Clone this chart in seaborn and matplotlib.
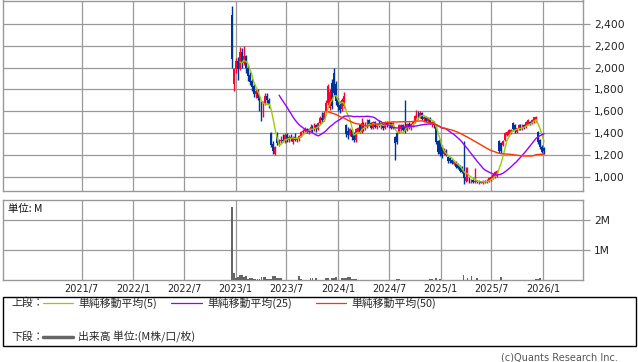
import numpy as np
import pandas as pd
import matplotlib
matplotlib.use("Agg")
import matplotlib.pyplot as plt
import matplotlib.dates as mdates
from matplotlib.lines import Line2D
from matplotlib.patches import Rectangle
import seaborn as sns

sns.set_style("white")
plt.rcParams['font.family'] = ['DejaVu Sans', 'Noto Sans CJK JP']

# ---------------- data (weekly candles) ----------------
start_week = "2022-12-19"

opens = [2480, 1850, 1990, 2060, 1990, 2140, 2040, 2110, 2000, 1930,
         1880, 1830, 1760, 1790, 1720, 1650, 1570, 1680, 1740, 1700,
         1400, 1300, 1210, 1380, 1310, 1330, 1340, 1330, 1380, 1340,
         1360, 1320, 1360, 1340, 1350, 1370, 1410, 1420, 1440, 1410,
         1440, 1460, 1430, 1470, 1440, 1490, 1540, 1520, 1600, 1680,
         1630, 1860, 1950, 1850, 1700, 1660, 1620, 1650, 1470, 1420,
         1380, 1430, 1400, 1340, 1410, 1470, 1410, 1490, 1440, 1460,
         1520, 1490, 1450, 1500, 1460, 1480, 1470, 1490, 1450, 1500,
         1470, 1490, 1450, 1360, 1400, 1410, 1440, 1470, 1460, 1430,
         1480, 1450, 1480, 1500, 1560, 1590, 1550, 1580, 1530, 1550,
         1510, 1540, 1490, 1500, 1460, 1330, 1340, 1270, 1210, 1240,
         1180, 1170, 1150, 1120, 1130, 1120, 1100, 1090, 1060, 960,
         975, 985, 950, 970, 950, 960, 950, 960, 945, 960,
         950, 960, 980, 990, 1000, 1010, 1330, 1310, 1290, 1335,
         1380, 1380, 1400, 1490, 1470, 1410, 1445, 1470, 1440, 1470,
         1455, 1475, 1500, 1490, 1500, 1510, 1410, 1335, 1275, 1260]

highs = [2570, 2000, 2090, 2100, 2190, 2180, 2200, 2120, 2020, 1960,
         1900, 1850, 1800, 1800, 1740, 1690, 1690, 1770, 1770, 1720,
         1410, 1330, 1280, 1410, 1350, 1370, 1390, 1400, 1400, 1380,
         1390, 1370, 1400, 1360, 1380, 1420, 1440, 1460, 1450, 1450,
         1480, 1470, 1490, 1480, 1500, 1560, 1590, 1600, 1700, 1850,
         1800, 1900, 2000, 1880, 1720, 1690, 1720, 1780, 1480, 1460,
         1450, 1440, 1410, 1450, 1460, 1480, 1540, 1500, 1500, 1530,
         1530, 1500, 1510, 1510, 1490, 1520, 1500, 1500, 1510, 1510,
         1500, 1500, 1500, 1370, 1410, 1480, 1480, 1480, 1700, 1490,
         1500, 1490, 1510, 1570, 1610, 1600, 1600, 1590, 1560, 1560,
         1550, 1550, 1510, 1510, 1470, 1340, 1350, 1290, 1260, 1250,
         1190, 1180, 1160, 1150, 1140, 1130, 1110, 1100, 1330, 1090,
         1090, 990, 980, 975, 1080, 970, 970, 965, 970, 970,
         975, 1000, 1010, 1030, 1050, 1065, 1340, 1320, 1340, 1410,
         1420, 1440, 1440, 1500, 1480, 1450, 1480, 1480, 1480, 1480,
         1510, 1530, 1510, 1530, 1550, 1560, 1420, 1350, 1290, 1270]

lows = [2000, 1790, 1950, 1890, 1980, 2000, 2020, 1950, 1880, 1840,
        1790, 1730, 1720, 1700, 1600, 1510, 1550, 1660, 1680, 1630,
        1270, 1210, 1195, 1290, 1280, 1310, 1320, 1310, 1320, 1320,
        1330, 1300, 1330, 1320, 1330, 1360, 1390, 1400, 1400, 1390,
        1420, 1410, 1420, 1410, 1430, 1480, 1500, 1510, 1580, 1660,
        1610, 1620, 1750, 1660, 1600, 1580, 1600, 1630, 1360, 1350,
        1370, 1340, 1320, 1320, 1400, 1400, 1400, 1420, 1430, 1450,
        1470, 1440, 1440, 1450, 1440, 1460, 1440, 1430, 1440, 1460,
        1450, 1440, 1440, 1150, 1300, 1400, 1420, 1420, 1400, 1420,
        1440, 1430, 1460, 1490, 1540, 1530, 1540, 1520, 1500, 1500,
        1490, 1480, 1460, 1450, 1300, 1210, 1190, 1170, 1200, 1190,
        1130, 1130, 1120, 1110, 1080, 1070, 1040, 1030, 930, 950,
        965, 940, 940, 940, 940, 940, 935, 940, 935, 940,
        940, 950, 965, 975, 985, 1000, 1220, 1220, 1280, 1330,
        1370, 1370, 1390, 1420, 1400, 1400, 1430, 1430, 1430, 1440,
        1450, 1470, 1470, 1480, 1495, 1500, 1300, 1250, 1220, 1210]

closes = [2080, 1990, 2060, 1990, 2140, 2040, 2110, 2000, 1920, 1870,
          1820, 1760, 1790, 1720, 1640, 1560, 1670, 1740, 1700, 1660,
          1290, 1240, 1270, 1310, 1330, 1340, 1330, 1380, 1340, 1360,
          1350, 1360, 1340, 1350, 1370, 1410, 1420, 1440, 1410, 1440,
          1460, 1430, 1470, 1440, 1490, 1540, 1520, 1580, 1680, 1830,
          1780, 1650, 1770, 1690, 1640, 1610, 1700, 1740, 1390, 1380,
          1440, 1360, 1340, 1440, 1450, 1410, 1490, 1430, 1490, 1520,
          1480, 1450, 1500, 1460, 1480, 1470, 1490, 1450, 1500, 1470,
          1490, 1450, 1490, 1310, 1320, 1470, 1470, 1430, 1420, 1480,
          1450, 1480, 1500, 1560, 1590, 1550, 1580, 1530, 1550, 1510,
          1540, 1490, 1500, 1470, 1320, 1230, 1210, 1190, 1250, 1200,
          1140, 1140, 1130, 1140, 1090, 1080, 1050, 1040, 990, 1000,
          1060, 950, 970, 950, 960, 950, 960, 945, 960, 950,
          965, 990, 1000, 1020, 1040, 1050, 1240, 1240, 1330, 1400,
          1410, 1430, 1430, 1440, 1420, 1445, 1470, 1440, 1470, 1450,
          1500, 1520, 1480, 1520, 1545, 1550, 1320, 1270, 1230, 1240]

volumes_m = [2.42, 0.24, 0.08, 0.11, 0.16, 0.16, 0.09, 0.13, 0.02, 0.07,
             0.07, 0.03, 0.02, 0.02, 0.02, 0.10, 0.10, 0.10, 0.02, 0.02,
             0.02, 0.13, 0.13, 0.05, 0.05, 0.05, 0.01, 0.01, 0.01, 0.01,
             0.01, 0.01, 0.01, 0.01, 0.13, 0.03, 0.01, 0.01, 0.01, 0.01,
             0.05, 0.05, 0.01, 0.05, 0.01, 0.01, 0.01, 0.01, 0.05, 0.05,
             0.01, 0.08, 0.08, 0.10, 0.01, 0.01, 0.07, 0.07, 0.05, 0.10,
             0.10, 0.03, 0.03, 0.03, 0.005, 0.005, 0.005, 0.005, 0.005, 0.005,
             0.005, 0.005, 0.005, 0.005, 0.005, 0.005, 0.005, 0.005, 0.005, 0.005,
             0.005, 0.005, 0.005, 0.005, 0.03, 0.03, 0.005, 0.005, 0.005, 0.005,
             0.005, 0.005, 0.005, 0.005, 0.005, 0.005, 0.005, 0.005, 0.005, 0.005,
             0.005, 0.03, 0.03, 0.005, 0.07, 0.005, 0.03, 0.005, 0.005, 0.005,
             0.005, 0.005, 0.005, 0.005, 0.005, 0.005, 0.005, 0.005, 0.17, 0.005,
             0.08, 0.005, 0.13, 0.005, 0.005, 0.07, 0.005, 0.005, 0.005, 0.005,
             0.005, 0.005, 0.005, 0.005, 0.005, 0.005, 0.005, 0.10, 0.005, 0.005,
             0.005, 0.005, 0.005, 0.005, 0.005, 0.005, 0.005, 0.005, 0.005, 0.005,
             0.005, 0.005, 0.005, 0.005, 0.005, 0.03, 0.03, 0.07, 0.005, 0.005]

price_ticks = [1000, 1200, 1400, 1600, 1800, 2000, 2200, 2400]
volume_ticks = [1, 2]
volume_tick_labels = ["1M", "2M"]
date_ticks = ["2021-07-01", "2022-01-01", "2022-07-01", "2023-01-01", "2023-07-01",
              "2024-01-01", "2024-07-01", "2025-01-01", "2025-07-01", "2026-01-01"]
date_tick_labels = ["2021/7", "2022/1", "2022/7", "2023/1", "2023/7",
                    "2024/1", "2024/7", "2025/1", "2025/7", "2026/1"]
ma_windows = [5, 25, 50]
ma_labels = ["単純移動平均(5)", "単純移動平均(25)", "単純移動平均(50)"]

# ---------------- build frame ----------------
df = pd.DataFrame({
    "date": pd.date_range(start_week, periods=len(closes), freq="7D"),
    "open": opens, "high": highs, "low": lows, "close": closes,
    "volume": volumes_m,
})
for w in ma_windows:
    df[f"ma{w}"] = df["close"].rolling(w).mean()

UP = "#FF0033"
DOWN = "#003399"
MA_COLORS = ["#99CC00", "#9900FF", "#FF3300"]
GRID = "#999999"
W, H = 638, 362

fig = plt.figure(figsize=(W / 100, H / 100), dpi=100)
ax = fig.add_axes([3 / W, 1 - 190.7 / H, 579.7 / W, 190.2 / H])
axv = fig.add_axes([3 / W, 1 - 280 / H, 579.7 / W, 80.5 / H], sharex=ax)

xleft = pd.Timestamp("2020-09-23")
xright = pd.Timestamp("2026-05-23")

# candles
for _, r in df.iterrows():
    col = UP if r["close"] >= r["open"] else DOWN
    ax.vlines(r["date"], r["low"], r["high"], color=col, lw=1.0, zorder=3)
    body = r["close"] - r["open"]
    if abs(body) < 10:
        body = 10 if body >= 0 else -10
    ax.bar(r["date"], body, bottom=r["open"], width=6.5, color=col,
           linewidth=0, zorder=3)

# moving averages
for w, c in zip(ma_windows, MA_COLORS):
    sns.lineplot(data=df, x="date", y=f"ma{w}", color=c, lw=1.0, ax=ax, zorder=4)

# volume
axv.bar(df["date"], df["volume"], width=6.5, color="#666666", linewidth=0, zorder=3)

for a in (ax, axv):
    a.set_xlim(xleft, xright)
    a.set_xlabel("")
    a.set_ylabel("")
    for s in a.spines.values():
        s.set_color(GRID)
        s.set_linewidth(1)
    a.yaxis.tick_right()
    a.tick_params(axis="y", which="both", length=5, width=0.9, color=GRID,
                  labelsize=7.7, labelcolor="#222222", pad=3, left=False)
    a.set_xticks([pd.Timestamp(d) for d in date_ticks])
    a.grid(True, color=GRID, lw=0.9, zorder=0)
    a.set_axisbelow(True)

ax.set_ylim(872, 2616)
ax.set_yticks(price_ticks)
ax.set_yticklabels([f"{v:,}" for v in price_ticks])
ax.tick_params(axis="x", length=0, labelbottom=False)

axv.set_ylim(0, 2.683)
axv.set_yticks(volume_ticks)
axv.set_yticklabels(volume_tick_labels)
axv.set_xticklabels(date_tick_labels)
axv.tick_params(axis="x", length=0, labelsize=7, labelcolor="#222222", pad=3)

axv.text(5 / 579.7, 0.95, "単位: M", transform=axv.transAxes, va="top", ha="left",
         fontsize=7.5, color="#111111", family=["Noto Sans CJK JP", "DejaVu Sans"])

# legend box
fig.patches.append(Rectangle((3 / W, 1 - 346 / H), 633 / W, 49 / H,
                             transform=fig.transFigure, fill=False,
                             edgecolor="black", lw=1))
cjk = ["Noto Sans CJK JP", "DejaVu Sans"]
y1 = 1 - 303 / H
y2 = 1 - 337 / H
fig.text(11 / W, y1, "上段：", fontsize=7.8, va="center", ha="left", family=cjk)
fig.text(11 / W, y2, "下段：", fontsize=7.8, va="center", ha="left", family=cjk)
seg = [(43, 73, 78), (171, 202, 207), (316, 346, 351)]
for (x0, x1, xt), c, lab in zip(seg, MA_COLORS, ma_labels):
    fig.add_artist(Line2D([x0 / W, x1 / W], [y1, y1], color=c, lw=0.9,
                          transform=fig.transFigure))
    fig.text(xt / W, y1, lab, fontsize=7.8, va="center", ha="left", family=cjk)
fig.add_artist(Line2D([43 / W, 73 / W], [y2, y2], color="#666666", lw=2.5,
                      transform=fig.transFigure))
fig.text(78 / W, y2, "出来高 単位:(M株/口/枚)", fontsize=7.8, va="center",
         ha="left", family=cjk)

fig.text(618 / W, 1 - 357 / H, "(c)Quants Research Inc.", fontsize=7,
         va="center", ha="right", color="#555555")

fig.savefig("out.png", dpi=100)
